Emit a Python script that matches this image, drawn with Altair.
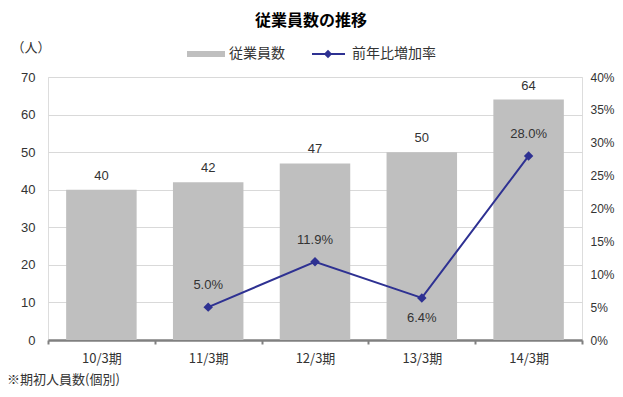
import altair as alt
import pandas as pd

categories = ["10/3期", "11/3期", "12/3期", "13/3期", "14/3期"]
employees = [40, 42, 47, 50, 64]
growth = [None, 0.050, 0.119, 0.064, 0.280]
left_ticks = [0, 10, 20, 30, 40, 50, 60, 70]
right_ticks = [0, 0.05, 0.10, 0.15, 0.20, 0.25, 0.30, 0.35, 0.40]

FONT = "Noto Sans CJK JP"
NUMFONT = "Liberation Sans"
BAR = "#bfbfbf"
LINE = "#2e3192"
TXT = "#333333"

df = pd.DataFrame({"期": categories, "従業員数": employees, "前年比増加率": growth})
gdf = df.dropna()

xaxis = alt.Axis(title=None, labelAngle=0, labelFont=FONT, labelFontSize=13, labelColor=TXT,
                 labelPadding=8, domainColor="#808080", domainWidth=2.5,
                 tickColor="#808080", tickWidth=2, tickSize=4, tickBand="extent", grid=False)
xscale = alt.Scale(paddingInner=0, paddingOuter=0)


def X():
    return alt.X("期:N", sort=categories, scale=xscale, axis=xaxis)


laxis = alt.Axis(title=None, values=left_ticks, domain=False, ticks=False, labelOverlap=False,
                 grid=True, gridColor="#d9d9d9", gridWidth=1,
                 labelFont=NUMFONT, labelFontSize=13, labelColor=TXT, labelPadding=13)
lscale = alt.Scale(domain=[0, 70])

raxis = alt.Axis(title=None, orient="right", values=right_ticks, format=".0%", labelOverlap=False,
                 domain=False, ticks=False, grid=False,
                 labelFont=NUMFONT, labelFontSize=12, labelColor=TXT, labelPadding=8)
rscale = alt.Scale(domain=[0, 0.4])

base = alt.Chart(df)
bars = base.mark_bar(color=BAR, width=alt.RelativeBandSize(0.66)).encode(
    x=X(), y=alt.Y("従業員数:Q", scale=lscale, axis=laxis))
bar_labels = base.mark_text(font=NUMFONT, fontSize=13, color=TXT, baseline="bottom", dy=-7).encode(
    x=X(), y=alt.Y("従業員数:Q", scale=lscale, axis=laxis), text=alt.Text("従業員数:Q"))
left = alt.layer(bars, bar_labels)

gbase = alt.Chart(gdf)


def YR():
    return alt.Y("前年比増加率:Q", scale=rscale, axis=raxis)


line = gbase.mark_line(color=LINE, strokeWidth=2).encode(x=X(), y=YR())
pts = gbase.mark_point(shape="diamond", filled=True, color=LINE, size=90, opacity=1).encode(x=X(), y=YR())
lab_above = gbase.transform_filter(alt.datum["期"] != "13/3期").mark_text(
    font=NUMFONT, fontSize=13, color=TXT, dy=-22).encode(
    x=X(), y=YR(), text=alt.Text("前年比増加率:Q", format=".1%"))
lab_below = gbase.transform_filter(alt.datum["期"] == "13/3期").mark_text(
    font=NUMFONT, fontSize=13, color=TXT, dy=20).encode(
    x=X(), y=YR(), text=alt.Text("前年比増加率:Q", format=".1%"))
right = alt.layer(line, pts, lab_above, lab_below)

one = pd.DataFrame({"k": [0]})
title = alt.Chart(one).mark_text(text="従業員数の推移", font=FONT, fontSize=16, fontWeight="bold",
                                 color="#000000", align="center", baseline="middle").encode(
    x=alt.value(263), y=alt.value(-56))
unit = alt.Chart(one).mark_text(text="（人）", font=FONT, fontSize=13, color=TXT,
                                align="center", baseline="middle").encode(
    x=alt.value(-17), y=alt.value(-29))
foot = alt.Chart(one).mark_text(text="※期初人員数(個別)", font=FONT, fontSize=13, color=TXT,
                                align="left", baseline="middle").encode(
    x=alt.value(-41), y=alt.value(303))
leg_rect = alt.Chart(one).mark_rect(color=BAR).encode(
    x=alt.value(139), x2=alt.value(177), y=alt.value(-26), y2=alt.value(-20))
leg_t1 = alt.Chart(one).mark_text(text="従業員数", font=FONT, fontSize=14, color=TXT,
                                  align="left", baseline="middle").encode(
    x=alt.value(181), y=alt.value(-23))
leg_line = alt.Chart(one).mark_rule(color=LINE, strokeWidth=2).encode(
    x=alt.value(264), x2=alt.value(297), y=alt.value(-23))
leg_pt = alt.Chart(one).mark_point(shape="diamond", filled=True, color=LINE, size=70, opacity=1).encode(
    x=alt.value(280), y=alt.value(-23))
leg_t2 = alt.Chart(one).mark_text(text="前年比増加率", font=FONT, fontSize=14, color=TXT,
                                  align="left", baseline="middle").encode(
    x=alt.value(304), y=alt.value(-23))

chart = alt.layer(left, right, title, unit, foot, leg_rect, leg_t1, leg_line, leg_pt, leg_t2).resolve_scale(
    y="independent"
).properties(
    width=534, height=263,
    autosize=alt.AutoSizeParams(type="none"),
    padding={"left": 40, "top": 69, "right": 33, "bottom": 49},
).configure_view(stroke=None).configure(background="white")

chart.save("out.html", embed_options={"renderer": "svg", "actions": False})
